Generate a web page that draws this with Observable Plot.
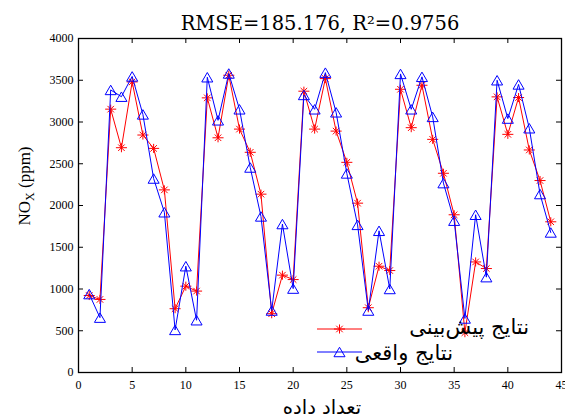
<!DOCTYPE html>
<html>
<head>
<meta charset="utf-8">
<script src="https://cdn.jsdelivr.net/npm/d3@7"></script>
<script src="https://cdn.jsdelivr.net/npm/@observablehq/plot@0.6"></script>
<style>
  body { margin: 0; background: #fff; }
  #chart svg { display: block; }
</style>
</head>
<body>
<div id="chart"></div>
<script>
// Sample index 1..44
const samples = d3.range(1, 45);

// Predicted NOx (ppm), red asterisks
const predicted = [922, 875, 3154, 2692, 3480, 2844, 2684, 2187, 764, 1034,
  975, 3289, 2811, 3560, 2915, 2637, 2136, 704, 1166, 1113,
  3369, 2915, 3520, 2891, 2517, 2028, 776, 1273, 1221, 3392,
  2932, 3440, 2792, 2386, 1889, 477, 1324, 1245, 3301, 2852,
  3293, 2665, 2299, 1805];

// Measured NOx (ppm), blue triangles
const actual = [939, 657, 3384, 3303, 3546, 3091, 2323, 1919, 510, 1273,
  626, 3536, 3020, 3581, 3152, 2455, 1869, 742, 1778, 1005,
  3324, 3152, 3591, 3116, 2384, 1768, 742, 1697, 1000, 3576,
  3152, 3541, 3061, 2268, 1818, 647, 1889, 1142, 3500, 3041,
  3450, 2925, 2137, 1677];

const xTicks = [0, 5, 10, 15, 20, 25, 30, 35, 40, 45];
const yTicks = [0, 500, 1000, 1500, 2000, 2500, 3000, 3500, 4000];

const titleText = "RMSE=185.176, R²=0.9756";
const xLabel = "تعداد داده";
const yLabelMain = "NO";
const yLabelSub = "X";
const yLabelUnit = " (ppm)";
const seriesNames = ["نتایج پیش‌بینی", "نتایج واقعی"];
const seriesColors = ["#ff0000", "#0000ff"];

const serif = "'Liberation Serif', 'Times New Roman', serif";

// Asterisk marker: plus plus a diagonal cross
const starSymbol = {
  draw(ctx, size) {
    const s = Math.sqrt(size);
    const h = 0.78 * s, v = 0.64 * s, d = 0.46 * s;
    ctx.moveTo(-h, 0); ctx.lineTo(h, 0);
    ctx.moveTo(0, -v); ctx.lineTo(0, v);
    ctx.moveTo(-d, -d); ctx.lineTo(d, d);
    ctx.moveTo(-d, d); ctx.lineTo(d, -d);
  }
};
// Upward triangle centred on its bounding box
const triSymbol = {
  draw(ctx, size) {
    const s = Math.sqrt(size);
    ctx.moveTo(0, -0.6 * s);
    ctx.lineTo(0.7 * s, 0.6 * s);
    ctx.lineTo(-0.7 * s, 0.6 * s);
    ctx.closePath();
  }
};
const starR = 4, triR = 4.45;

const rows = samples.map((n, i) => ({n, predicted: predicted[i], actual: actual[i]}));

const W = 565, H = 417;
const mL = 78, mR = 4, mT = 38, mB = 45;
const frameW = W - mL - mR, frameH = H - mT - mB;
const tickLen = 5;

const chart = Plot.plot({
  width: W,
  height: H,
  marginLeft: mL,
  marginRight: mR,
  marginTop: mT,
  marginBottom: mB,
  style: {fontFamily: serif, fontSize: "12px", background: "#fff", color: "#000"},
  x: {domain: [0, 45], label: null},
  y: {domain: [0, 4000], label: null},
  marks: [
    Plot.axisX({ticks: xTicks, tickFormat: d => String(d), tickSize: 0, tickPadding: 7.5, label: null,
      fontSize: 12, fontFamily: serif, fill: "#000"}),
    Plot.axisY({ticks: yTicks, tickFormat: d => String(d), tickSize: 0, tickPadding: 5, label: null,
      fontSize: 12, fontFamily: serif, fill: "#000"}),
    // inward tick marks on all four sides
    Plot.tickX(xTicks, {x: d => d, insetTop: frameH - tickLen, stroke: "#000", strokeWidth: 1}),
    Plot.tickX(xTicks, {x: d => d, insetBottom: frameH - tickLen, stroke: "#000", strokeWidth: 1}),
    Plot.tickY(yTicks, {y: d => d, insetRight: frameW - tickLen, stroke: "#000", strokeWidth: 1}),
    Plot.tickY(yTicks, {y: d => d, insetLeft: frameW - tickLen, stroke: "#000", strokeWidth: 1}),
    Plot.line(rows, {x: "n", y: "predicted", stroke: seriesColors[0], strokeWidth: 1}),
    Plot.dot(rows, {x: "n", y: "predicted", symbol: starSymbol, r: starR, fill: "none", stroke: seriesColors[0], strokeWidth: 1}),
    Plot.line(rows, {x: "n", y: "actual", stroke: seriesColors[1], strokeWidth: 1}),
    Plot.dot(rows, {x: "n", y: "actual", symbol: triSymbol, r: triR, fill: "none", stroke: seriesColors[1], strokeWidth: 1}),
    Plot.frame({stroke: "#000", strokeWidth: 1.3}),
    Plot.text([titleText], {frameAnchor: "top", dy: -9, lineAnchor: "bottom", text: d => d,
      fontFamily: "'DejaVu Serif', serif", fontSize: 19.5, fill: "#000"}),
    Plot.text([xLabel], {frameAnchor: "bottom", dx: 2, dy: 41, lineAnchor: "bottom", text: d => d,
      fontFamily: "'DejaVu Sans', sans-serif", fontSize: 19.5, fill: "#000"})
  ]
});

document.getElementById("chart").appendChild(chart);

const svg = d3.select(chart);

// y-axis title with subscript
const yl = svg.append("text")
  .attr("transform", "translate(30,186) rotate(-90)")
  .attr("text-anchor", "middle")
  .attr("font-family", serif)
  .attr("font-size", 17)
  .attr("fill", "#000");
yl.append("tspan").text(yLabelMain);
yl.append("tspan").attr("font-size", 12).attr("dy", 4).text(yLabelSub);
yl.append("tspan").attr("dy", -4).text(yLabelUnit);

// legend
const legend = svg.append("g");
const symbols = [starSymbol, triSymbol];
const radii = [starR, triR];
const rowsY = [329, 352];
const textRight = [529, 453];
const textBase = [334, 360];
seriesNames.forEach((name, i) => {
  const g = legend.append("g");
  g.append("line").attr("x1", 317).attr("x2", 362).attr("y1", rowsY[i]).attr("y2", rowsY[i])
    .attr("stroke", seriesColors[i]).attr("stroke-width", 1);
  g.append("path")
    .attr("d", d3.symbol().type(symbols[i]).size(Math.PI * radii[i] * radii[i])())
    .attr("transform", `translate(339.5,${rowsY[i]})`)
    .attr("fill", "none").attr("stroke", seriesColors[i]).attr("stroke-width", 1);
  g.append("text").attr("x", textRight[i]).attr("y", textBase[i])
    .attr("text-anchor", "end")
    .attr("font-family", "'DejaVu Sans', sans-serif")
    .attr("font-size", 21)
    .attr("fill", "#000")
    .text(name);
});
</script>
</body>
</html>
